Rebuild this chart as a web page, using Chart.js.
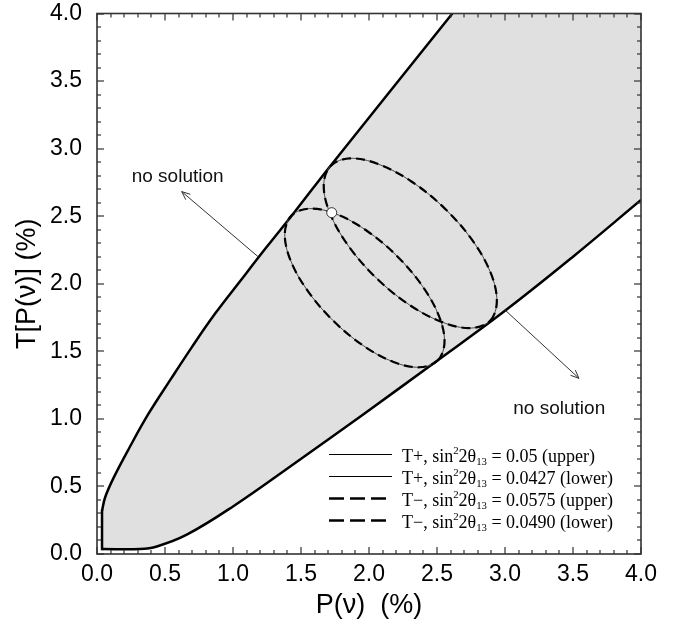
<!DOCTYPE html>
<html lang="en">
<head>
<meta charset="utf-8">
<title>T[P(ν)] vs P(ν)</title>
<script src="https://cdn.jsdelivr.net/npm/chart.js@4.4.1/dist/chart.umd.min.js"></script>
<style>
  html, body { margin: 0; padding: 0; background: #fff; }
  canvas { display: block; }
</style>
</head>
<body>
<canvas id="grafica" width="681" height="622"></canvas>
<script>
// Frontera superior de la región con solución (x = P(ν) %, y = T[P(ν)] %)
const fronteraSupX = [0.037, 0.060, 0.120, 0.240, 0.380, 0.540, 0.700, 0.870, 1.059, 1.250, 1.446, 1.713, 2.613];
const fronteraSupY = [0.320, 0.420, 0.560, 0.790, 1.040, 1.290, 1.535, 1.781, 2.028, 2.275, 2.522, 2.868, 4.000];

// Frontera inferior
const fronteraInfX = [0.037, 0.316, 0.440, 0.660, 1.000, 1.470, 1.960, 2.473, 3.000, 3.500, 4.000];
const fronteraInfY = [0.037, 0.037, 0.056, 0.143, 0.352, 0.683, 1.035, 1.410, 1.800, 2.200, 2.620];

// Elipse "upper" (T+ 0.05 y T− 0.0575 coinciden)
const elipseSupX = [2.892, 2.940, 2.895, 2.762, 2.556, 2.312, 2.067, 1.859, 1.718, 1.667, 1.713, 1.848, 2.054, 2.298, 2.543, 2.751];
const elipseSupY = [1.728, 1.872, 2.080, 2.319, 2.558, 2.757, 2.886, 2.928, 2.872, 2.730, 2.522, 2.281, 2.042, 1.843, 1.714, 1.672];

// Elipse "lower" (T+ 0.0427 y T− 0.0490 coinciden)
const elipseInfX = [2.505, 2.555, 2.516, 2.393, 2.205, 1.981, 1.756, 1.563, 1.431, 1.381, 1.420, 1.543, 1.731, 1.955, 2.180, 2.373];
const elipseInfY = [1.432, 1.564, 1.757, 1.982, 2.206, 2.394, 2.517, 2.556, 2.506, 2.374, 2.181, 1.956, 1.732, 1.544, 1.421, 1.382];

// Punto donde se cruzan las dos elipses
const cruceX = [1.726];
const cruceY = [2.526];

const etiquetas = [
    'T+, sin²2θ₁₃ = 0.05 (upper)',
    'T+, sin²2θ₁₃ = 0.0427 (lower)',
    'T−, sin²2θ₁₃ = 0.0575 (upper)',
    'T−, sin²2θ₁₃ = 0.0490 (lower)'
];

const SANS = "'Liberation Sans', Arial, Helvetica, sans-serif";
const SERIF = "'Liberation Serif', 'Times New Roman', serif";

const puntos = (xs, ys) => xs.map((x, i) => ({ x, y: ys[i] }));

// Curva cerrada: se repiten vecinos en los extremos para que la spline no tenga quiebre
const cerrar = (xs, ys) => {
    const p = puntos(xs, ys);
    return [p[p.length - 1], ...p, p[0], p[1]];
};

const elipse = (xs, ys, label, discontinua) => {
    const n = xs.length;
    return {
        label,
        enLeyenda: true,
        data: cerrar(xs, ys),
        borderColor: discontinua ? '#000' : '#4a4a4a',
        borderWidth: discontinua ? 2.2 : 1,
        borderDash: discontinua ? [9, 5] : [],
        tension: 0.35,
        fill: false,
        order: discontinua ? 1 : 2,
        segment: {
            borderColor: c => (c.p0DataIndex === 0 || c.p0DataIndex > n) ? 'rgba(0,0,0,0)' : undefined
        }
    };
};

const sup = puntos(fronteraSupX, fronteraSupY);
const inf = puntos(fronteraInfX, fronteraInfY);

// Textos "no solution" y flechas, en unidades de los ejes
const notas = [
    { texto: 'no solution', x: 0.255, y: 2.754 },
    { texto: 'no solution', x: 3.061, y: 1.034 }
];
const flechas = [
    { desde: [1.189, 2.196], hasta: [0.623, 2.682] },
    { desde: [3.000, 1.806], hasta: [3.544, 1.300] }
];

const SUPER = { '²': '2' };
const SUB = { '₀': '0', '₁': '1', '₂': '2', '₃': '3', '₄': '4', '₅': '5', '₆': '6', '₇': '7', '₈': '8', '₉': '9' };

const textoRico = (ctx, texto, x, y, tam) => {
    let cx = x;
    for (const ch of texto) {
        let t = ch, size = tam, dy = 0;
        if (SUPER[ch]) { t = SUPER[ch]; size = tam * 0.6; dy = -tam * 0.42; }
        else if (SUB[ch]) { t = SUB[ch]; size = tam * 0.6; dy = tam * 0.2; }
        ctx.font = `${size}px ${SERIF}`;
        ctx.fillText(t, cx, y + dy);
        cx += ctx.measureText(t).width;
    }
};

// Marcas cada 0.1 (mayores cada 0.5) hacia adentro en los cuatro lados
const PASO = 0.1;
const marcasDe = s => {
    const n = Math.round((s.max - s.min) / PASO);
    return Array.from({ length: n + 1 }, (_, i) => ({
        p: Math.round(s.getPixelForValue(s.min + i * PASO)),
        mayor: i % 5 === 0
    }));
};

const marco = {
    id: 'marco',
    afterDraw(chart) {
        const { ctx, chartArea: a, scales: { x, y } } = chart;
        const g = 1.2;
        ctx.save();
        ctx.fillStyle = '#333';
        marcasDe(x).forEach(m => {
            const l = m.mayor ? 7 : 4;
            ctx.fillRect(m.p - g / 2, a.bottom - l, g, l);
            ctx.fillRect(m.p - g / 2, a.top, g, l);
        });
        marcasDe(y).forEach(m => {
            const l = m.mayor ? 7 : 4;
            ctx.fillRect(a.left, m.p - g / 2, l, g);
            ctx.fillRect(a.right - l, m.p - g / 2, l, g);
        });
        ctx.strokeStyle = '#333';
        ctx.lineWidth = 1.6;
        ctx.setLineDash([]);
        ctx.strokeRect(a.left, a.top, a.right - a.left, a.bottom - a.top);
        ctx.restore();
    }
};

const anotaciones = {
    id: 'anotaciones',
    afterDatasetsDraw(chart) {
        const { ctx, scales: { x, y } } = chart;
        ctx.save();
        ctx.setLineDash([]);
        ctx.strokeStyle = '#333';
        ctx.lineWidth = 1;
        flechas.forEach(f => {
            const x0 = x.getPixelForValue(f.desde[0]), y0 = y.getPixelForValue(f.desde[1]);
            const x1 = x.getPixelForValue(f.hasta[0]), y1 = y.getPixelForValue(f.hasta[1]);
            const ang = Math.atan2(y1 - y0, x1 - x0);
            ctx.beginPath();
            ctx.moveTo(x0, y0); ctx.lineTo(x1, y1);
            [-0.4, 0.4].forEach(d => {
                ctx.moveTo(x1, y1);
                ctx.lineTo(x1 - 9 * Math.cos(ang + d), y1 - 9 * Math.sin(ang + d));
            });
            ctx.stroke();
        });
        ctx.fillStyle = '#111';
        ctx.font = `19px ${SANS}`;
        ctx.textBaseline = 'alphabetic';
        notas.forEach(n => ctx.fillText(n.texto, x.getPixelForValue(n.x), y.getPixelForValue(n.y)));
        ctx.restore();
    }
};

const leyenda = {
    id: 'leyenda',
    afterDatasetsDraw(chart, args, o) {
        const { ctx, chartArea: a } = chart;
        const entradas = chart.data.datasets.filter(d => d.enLeyenda);
        ctx.save();
        ctx.fillStyle = '#000';
        ctx.textBaseline = 'alphabetic';
        entradas.forEach((d, i) => {
            const yl = a.top + o.arriba + i * o.fila;
            const discontinua = d.borderDash.length > 0;
            ctx.strokeStyle = '#000';
            ctx.lineWidth = discontinua ? 2.6 : 1.2;
            ctx.setLineDash(discontinua ? o.guion : []);
            ctx.beginPath();
            ctx.moveTo(a.left + o.izq, yl);
            ctx.lineTo(a.left + o.izq + o.largo, yl);
            ctx.stroke();
            ctx.setLineDash([]);
            textoRico(ctx, d.label, a.left + o.texto, yl + 7, o.tam);
        });
        ctx.restore();
    }
};

const ticksEje = {
    stepSize: 0.5,
    autoSkip: false,
    maxRotation: 0,
    color: '#000',
    font: { family: SANS, size: 23 },
    callback: v => v.toFixed(1)
};

const tituloEje = texto => ({
    display: true,
    text: texto,
    color: '#000',
    font: { family: SANS, size: 27 }
});

new Chart(document.getElementById('grafica'), {
    type: 'line',
    data: {
        datasets: [
            elipse(elipseSupX, elipseSupY, etiquetas[0], false),
            elipse(elipseInfX, elipseInfY, etiquetas[1], false),
            elipse(elipseSupX, elipseSupY, etiquetas[2], true),
            elipse(elipseInfX, elipseInfY, etiquetas[3], true),
            {
                label: 'frontera superior',
                data: sup,
                borderColor: '#000',
                borderWidth: 2.5,
                tension: 0.4,
                fill: 'end',
                backgroundColor: '#fff',
                order: 3
            },
            {
                label: 'pared',
                data: [inf[0], sup[0]],
                borderColor: '#000',
                borderWidth: 2.5,
                borderCapStyle: 'square',
                tension: 0,
                fill: false,
                order: 3
            },
            {
                label: 'frontera inferior',
                data: inf,
                borderColor: '#000',
                borderWidth: 2.5,
                tension: 0.4,
                fill: 'end',
                backgroundColor: '#e0e0e0',
                order: 4
            },
            {
                label: 'cruce',
                data: puntos(cruceX, cruceY),
                showLine: false,
                pointRadius: 5,
                pointBackgroundColor: '#fff',
                pointBorderColor: '#333',
                pointBorderWidth: 1,
                order: 0
            }
        ]
    },
    options: {
        responsive: false,
        animation: false,
        events: [],
        layout: { padding: { top: 0, right: 40, left: 0, bottom: 0 } },
        elements: { point: { radius: 0 } },
        plugins: {
            legend: { display: false },
            tooltip: { enabled: false },
            leyenda: { izq: 232, largo: 63, texto: 305, arriba: 441, fila: 22, tam: 18, guion: [15, 6] }
        },
        scales: {
            x: {
                type: 'linear',
                min: 0,
                max: 4,
                grid: { display: false, drawTicks: false },
                border: { display: false },
                ticks: { ...ticksEje, padding: 7 },
                title: { ...tituloEje('P(ν)  (%)'), padding: { top: 0, bottom: 0 } },
                afterFit: s => { s.height = 68; }
            },
            y: {
                type: 'linear',
                min: 0,
                max: 4,
                grid: { display: false, drawTicks: false },
                border: { display: false },
                ticks: { ...ticksEje, padding: 15 },
                title: { ...tituloEje('T[P(ν)] (%)'), padding: { top: 11, bottom: 0 } },
                afterFit: s => {
                    s.width = 97;
                    s.paddingTop = 13.5;
                    s.paddingBottom = 0;
                }
            }
        }
    },
    plugins: [marco, anotaciones, leyenda]
});
</script>
</body>
</html>
